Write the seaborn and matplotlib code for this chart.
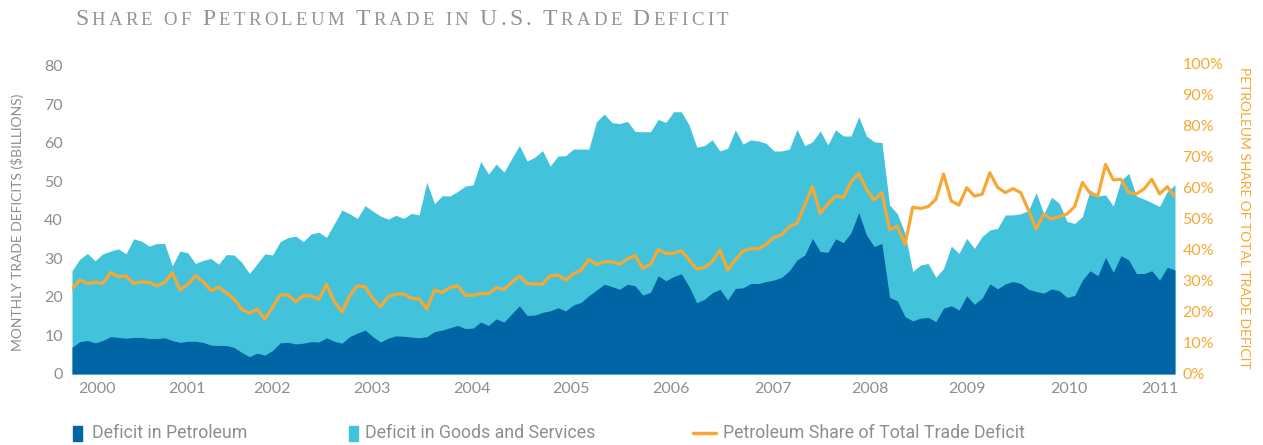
import numpy as np
import pandas as pd
import seaborn as sns
import matplotlib.pyplot as plt
from matplotlib.patches import Rectangle
from matplotlib.lines import Line2D

# Monthly values, Jan 2000 onwards ($ billions / percent)
petroleum = [6.9, 8.4, 8.7, 8.1, 8.7, 9.7, 9.5, 9.3, 9.5, 9.5, 9.2, 9.2, 9.4, 8.7, 8.2, 8.5, 8.5, 8.2, 7.5, 7.4, 7.4,
             6.9, 5.6, 4.5, 5.4, 4.9, 6.1, 8.1, 8.2, 7.8, 8.0, 8.4, 8.3, 9.4, 8.5, 8.0, 9.7, 10.6, 11.4, 9.7, 8.3,
             9.3, 9.9, 9.8, 9.6, 9.4, 9.7, 11.0, 11.4, 12.0, 12.6, 11.8, 11.9, 13.5, 12.6, 14.3, 13.5, 15.6, 17.7, 15.2, 15.3,
             16.0, 16.4, 17.2, 16.4, 17.9, 18.6, 20.3, 21.8, 23.3, 22.7, 22.0, 23.3, 22.9, 20.5, 21.2, 25.5, 24.2, 25.3, 26.0, 22.7, 18.5,
             19.4, 21.1, 22.0, 19.2, 22.2, 22.4, 23.5, 23.5, 24.0, 24.4, 25.1, 26.8, 29.6, 30.9, 35.2, 31.8, 31.6, 35.1, 34.1, 36.7,
             41.9, 36.1, 33.1, 33.9, 19.9, 19.0, 14.9, 13.8, 14.5, 14.7, 13.6, 17.1, 17.7, 16.6, 20.3, 18.1, 19.7, 23.4, 22.1, 23.4, 24.0,
             23.5, 22.0, 21.4, 21.0, 22.1, 21.6, 19.9, 20.4, 24.4, 26.8, 25.5, 30.3, 26.4, 30.7, 29.6, 26.1, 26.1, 26.8, 24.4, 27.7, 27.0]

total = [26.8, 29.8, 31.3, 29.4, 31.2, 31.9, 32.5, 31.2, 35.1, 34.5, 33.2, 33.9, 33.9, 28.1, 31.9, 31.5, 28.7, 29.5, 30.0, 28.5, 31.0,
         30.9, 29.0, 26.1, 28.6, 31.2, 30.9, 34.4, 35.4, 35.8, 34.4, 36.4, 36.8, 35.5, 39.0, 42.6, 41.6, 40.4, 43.7, 42.3, 41.0,
         40.2, 41.2, 40.4, 41.7, 41.3, 49.8, 44.2, 46.3, 46.2, 47.4, 48.8, 49.1, 55.2, 51.9, 54.5, 52.4, 55.9, 59.3, 55.3, 56.3,
         58.0, 54.0, 56.6, 56.7, 58.4, 58.4, 58.4, 65.5, 67.5, 65.3, 65.0, 65.6, 63.0, 62.9, 62.9, 66.1, 65.3, 68.1, 68.1, 64.7, 58.9,
         59.3, 60.8, 57.9, 58.6, 63.4, 59.7, 60.8, 60.5, 59.9, 57.9, 57.9, 58.4, 63.5, 59.3, 60.3, 63.1, 59.5, 63.4, 61.8, 61.8,
         66.8, 61.8, 60.3, 60.1, 43.9, 41.6, 36.5, 26.6, 28.3, 28.7, 25.1, 27.4, 33.2, 31.3, 35.2, 32.6, 35.7, 37.4, 37.8, 41.3, 41.3,
         41.6, 42.4, 47.1, 41.6, 45.9, 44.3, 39.6, 39.1, 40.9, 47.8, 46.2, 46.5, 43.6, 50.2, 52.1, 46.2, 45.4, 44.5, 43.5, 47.4, 49.1]

share = [27.4, 30.3, 29.2, 29.6, 29.2, 32.7, 31.4, 31.6, 29.2, 29.7, 29.5, 28.4, 29.5, 32.7, 27.1, 28.9, 31.7, 29.8, 26.9, 28.0, 26.2,
         24.2, 20.9, 19.6, 20.9, 17.7, 21.5, 25.5, 25.5, 23.3, 25.3, 25.1, 24.1, 28.9, 23.5, 20.0, 25.2, 28.5, 28.1, 24.4, 21.7,
         24.9, 25.8, 25.8, 24.4, 24.3, 20.9, 27.1, 26.3, 27.9, 28.4, 25.4, 25.4, 26.0, 25.9, 27.8, 27.3, 29.5, 31.6, 29.2, 29.0,
         29.0, 31.7, 31.9, 30.3, 32.3, 33.5, 37.0, 35.3, 36.2, 36.2, 35.4, 37.1, 38.2, 34.1, 35.3, 40.2, 38.9, 38.9, 39.8, 36.8, 33.8,
         34.4, 36.2, 40.0, 33.5, 36.8, 39.7, 40.4, 40.4, 41.8, 44.1, 44.9, 47.5, 48.6, 54.5, 60.4, 51.8, 54.8, 57.4, 56.9, 62.0,
         64.7, 59.6, 56.1, 58.5, 46.5, 47.7, 41.8, 53.8, 53.4, 54.0, 56.3, 64.5, 55.8, 54.5, 60.1, 57.4, 58.0, 64.9, 60.2, 58.5, 59.8,
         58.5, 52.9, 46.8, 51.6, 50.0, 50.8, 51.6, 54.0, 61.8, 58.3, 57.4, 67.6, 62.6, 62.8, 58.5, 58.1, 59.7, 62.8, 58.1, 60.4, 57.2]

years = ['2000', '2001', '2002', '2003', '2004', '2005', '2006', '2007', '2008', '2009', '2010', '2011']
year_pos = [3.2, 14.9, 25.9, 38.9, 51.9, 64.7, 77.7, 90.9, 103.5, 116.0, 129.3, 141.1]

DARK = '#0065A4'
LIGHT = '#43C3DB'
ORANGE = '#F7A833'
GRAY = '#8E8E8E'

df = pd.DataFrame({'month': np.arange(len(petroleum)),
                   'petroleum': petroleum, 'total': total, 'share': share})

sns.set_style('white')
plt.rcParams['font.family'] = ['Lato', 'DejaVu Sans']

fig = plt.figure(figsize=(12.63, 4.45), dpi=100)
ax = fig.add_axes([0.0570, 0.1596, 0.8733, 0.6966])

# stacked look: total deficit behind, petroleum in front
ax.fill_between(df['month'], df['total'], color=LIGHT, lw=0)
ax.fill_between(df['month'], df['petroleum'], color=DARK, lw=0)
ax.set_xlim(0, len(df) - 1)
ax.set_ylim(0, 80.5)
ax.set_yticks(range(0, 81, 10))
ax.set_xticks(year_pos)
ax.set_xticklabels(years)
ax.tick_params(axis='y', length=0, pad=6.5, labelsize=11.5, labelcolor=GRAY)
ax.tick_params(axis='x', length=0, pad=5.5, labelsize=11.5, labelcolor=GRAY)
for s in ax.spines.values():
    s.set_visible(False)

ax2 = ax.twinx()
sns.lineplot(data=df, x='month', y='share', ax=ax2, color=ORANGE, lw=2.3)
ax2.set_ylim(0, 100)
ax2.set_yticks(range(0, 101, 10))
ax2.set_yticklabels([f'{v}%' for v in range(0, 101, 10)])
ax2.tick_params(axis='y', length=0, pad=5.5, labelsize=11.5, labelcolor=ORANGE)
ax2.set_ylabel('')
ax2.set_xlabel('')
for s in ax2.spines.values():
    s.set_visible(False)
ax.set_xlabel('')

# axis titles
fig.text(0.0135, 0.50, 'MONTHLY TRADE DEFICITS ($BILLIONS)', rotation=90, ha='center', va='center',
         fontsize=10, color=GRAY)
fig.text(0.985, 0.51, 'PETROLEUM SHARE OF TOTAL TRADE DEFICIT', rotation=-90, ha='center', va='center',
         fontsize=10, color=ORANGE)

# title in small caps, drawn letter by letter
title = 'Share of Petroleum Trade in U.S. Trade Deficit'
renderer = fig.canvas.get_renderer()
W = fig.get_figwidth() * fig.dpi
x = 75
for ch in title:
    if ch == ' ':
        x += 8
        continue
    size = 17 if (ch.isupper() or ch == '.') else 13.5
    t = fig.text(x / W, 0.9438, ch.upper(), fontsize=size, color='#939393',
                 family='Liberation Serif', va='baseline', ha='left')
    x += t.get_window_extent(renderer).width + 3.3

# legend
H = fig.get_figheight() * fig.dpi
ly = 1 - 433 / H
leg_font = ['Roboto', 'DejaVu Sans']
fig.add_artist(Rectangle((73 / W, ly - 7.5 / H), 9 / W, 15 / H, color=DARK, transform=fig.transFigure))
fig.text(92 / W, ly, 'Deficit in Petroleum', fontsize=12.8, color=GRAY, va='center', family=leg_font)
fig.add_artist(Rectangle((349 / W, ly - 7.5 / H), 9 / W, 15 / H, color=LIGHT, transform=fig.transFigure))
fig.text(365 / W, ly, 'Deficit in Goods and Services', fontsize=12.8, color=GRAY, va='center', family=leg_font)
fig.add_artist(Line2D([693 / W, 716 / W], [ly, ly], color=ORANGE, lw=2.5, transform=fig.transFigure))
fig.text(723 / W, ly, 'Petroleum Share of Total Trade Deficit', fontsize=12.8, color=GRAY, va='center',
         family=leg_font)

fig.savefig('out.png', dpi=100)
